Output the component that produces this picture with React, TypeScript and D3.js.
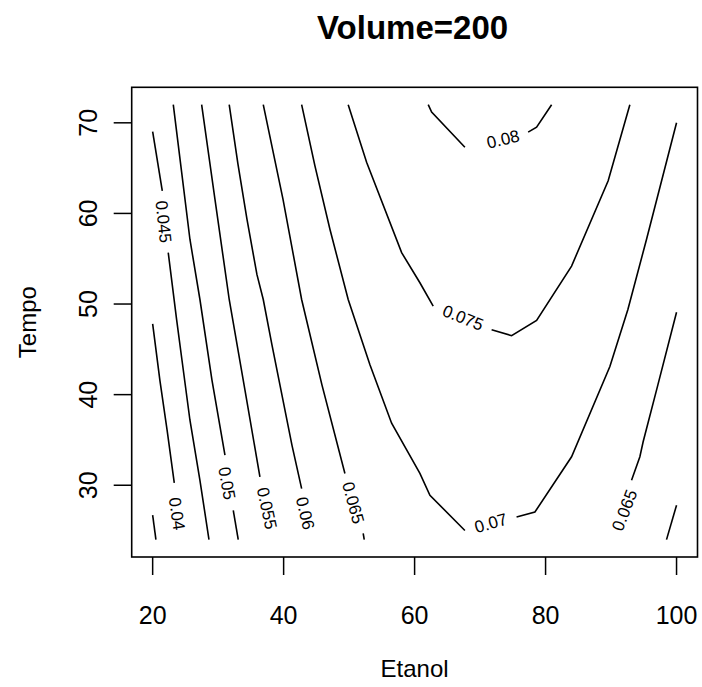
import React from "react";
import * as d3 from "d3";

type Pt = [number, number];

// Axis extents and ticks
const etanolRange: [number, number] = [20, 100];
const tempoRange: [number, number] = [24, 72];
const etanolTicks = [20, 40, 60, 80, 100];
const tempoTicks = [30, 40, 50, 60, 70];

// Contour lines (Etanol, Tempo), each level split into drawn pieces
const level035: Pt[][] = [[[20, 26.7], [20.5, 24]]];
const level040: Pt[][] = [[[20, 47.8], [21.1, 41.6], [22.2, 36.1], [23.3, 30.25]]];
const level045: Pt[][] = [
  [[20, 69.04], [21.47, 62.5]],
  [[22.38, 55.67], [23.66, 48.28], [24.47, 43.85], [25.69, 37.2], [27.22, 30.55], [28.6, 24]],
];
const level050: Pt[][] = [
  [[23.15, 72], [24.43, 64.54], [25.69, 57.15], [27.22, 50.5], [29.05, 41.63], [31.04, 33.32]],
  [[32.31, 27.23], [33.07, 24]],
];
const level055: Pt[][] = [
  [[27.48, 72], [29.51, 61.58], [31.69, 50.5], [34.09, 40.53], [36.38, 30.92]],
];
const level060: Pt[][] = [
  [[31.69, 72], [33.02, 65.46], [34.4, 59.36], [35.92, 53.27], [36.89, 50.5], [38.21, 45.51], [39.74, 39.97], [41.27, 34.43], [42.75, 29.63]],
  [[100, 27.8], [98.47, 24]],
];
const level065: Pt[][] = [
  [[36.89, 72], [39.9, 61.58], [42.75, 50.5], [45.85, 41.08], [49.36, 31.3]],
  [[52.15, 24.68], [52.31, 24]],
  [[100, 49.1], [97.15, 41.08], [94.9, 34.8], [94.4, 33.14], [93.13, 30.55]],
];
const level070: Pt[][] = [
  [[42.75, 72], [44.78, 65.24], [47.07, 58.25], [49.86, 50.5], [53.18, 43.3], [56.49, 36.84], [60.81, 31.3], [62.34, 28.89], [67.68, 25.01]],
  [[75.57, 26.49], [78.37, 27.04], [83.97, 33.14], [89.82, 43.11], [92.57, 49.39], [95.42, 57.15], [100, 70.0]],
];
const level075: Pt[][] = [
  [[49.86, 72], [52.67, 65.65], [58.02, 55.67], [60.81, 52.35], [62.84, 49.76]],
  [[71.76, 47.17], [74.81, 46.51], [78.63, 48.2], [83.97, 54.19], [89.56, 63.61], [92.87, 72]],
];
const level080: Pt[][] = [
  [[62.08, 72], [62.6, 71.19], [67.68, 67.31]],
  [[77.34, 68.97], [78.63, 69.52], [80.92, 72]],
];

const contourLines = [level035, level040, level045, level050, level055, level060, level065, level070, level075, level080];

// Contour labels: text, position (Etanol, Tempo), rotation in degrees
const labelTexts = ["0.04", "0.045", "0.05", "0.055", "0.06", "0.065", "0.065", "0.07", "0.075", "0.08"];
const labelPositions: Pt[] = [
  [23.66, 26.85], [21.62, 59.08], [31.3, 30.2], [37.4, 27.45], [43.25, 26.9],
  [50.58, 28.06], [92.1, 27.23], [71.66, 25.79], [67.38, 48.45], [73.53, 68.15],
];
const labelAngles = [82, 84, 80, 78, 77, 75, -69, -16, 22, -13];

const W = 702;
const H = 687;
const plot = { left: 131.7, right: 697.5, top: 87.3, bottom: 557 };
const FONT = "'Liberation Sans', Arial, Helvetica, sans-serif";

export default function App() {
  const ex = (etanolRange[1] - etanolRange[0]) * 0.04;
  const ey = (tempoRange[1] - tempoRange[0]) * 0.04;
  const x = d3.scaleLinear().domain([etanolRange[0] - ex, etanolRange[1] + ex]).range([plot.left, plot.right]);
  const y = d3.scaleLinear().domain([tempoRange[0] - ey, tempoRange[1] + ey]).range([plot.bottom, plot.top]);
  const line = d3.line<Pt>().x((d) => x(d[0])).y((d) => y(d[1]));
  const tick = 18;
  const cx = (plot.left + plot.right) / 2;
  const cy = (plot.top + plot.bottom) / 2;

  return (
    <svg width={W} height={H} style={{ position: "absolute", left: 0, top: 0, background: "#fff" }} fontFamily={FONT}>
      <rect x={0} y={0} width={W} height={H} fill="#fff" />
      <text x={cx - 2} y={39} textAnchor="middle" fontSize={33} fontWeight="bold">Volume=200</text>

      {contourLines.map((pieces, i) =>
        pieces.map((p, j) => (
          <path key={`c${i}-${j}`} d={line(p) || ""} fill="none" stroke="#000" strokeWidth={1.6} />
        ))
      )}

      {labelTexts.map((t, i) => (
        <text
          key={`l${i}`}
          transform={`translate(${x(labelPositions[i][0])},${y(labelPositions[i][1])}) rotate(${labelAngles[i]})`}
          textAnchor="middle"
          dominantBaseline="central"
          fontSize={17}
        >
          {t}
        </text>
      ))}

      <rect x={plot.left} y={plot.top} width={plot.right - plot.left} height={plot.bottom - plot.top} fill="none" stroke="#000" strokeWidth={1.6} />

      {etanolTicks.map((v) => (
        <g key={`xt${v}`}>
          <line x1={x(v)} x2={x(v)} y1={plot.bottom} y2={plot.bottom + tick} stroke="#000" strokeWidth={1.5} />
          <text x={x(v)} y={624} textAnchor="middle" fontSize={25}>{v}</text>
        </g>
      ))}
      {tempoTicks.map((v) => (
        <g key={`yt${v}`}>
          <line x1={plot.left - tick} x2={plot.left} y1={y(v)} y2={y(v)} stroke="#000" strokeWidth={1.5} />
          <text transform={`translate(97,${y(v)}) rotate(-90)`} textAnchor="middle" fontSize={25}>{v}</text>
        </g>
      ))}
      <text x={cx} y={677} textAnchor="middle" fontSize={24}>Etanol</text>
      <text transform={`translate(36,${cy}) rotate(-90)`} textAnchor="middle" fontSize={24}>Tempo</text>
    </svg>
  );
}
